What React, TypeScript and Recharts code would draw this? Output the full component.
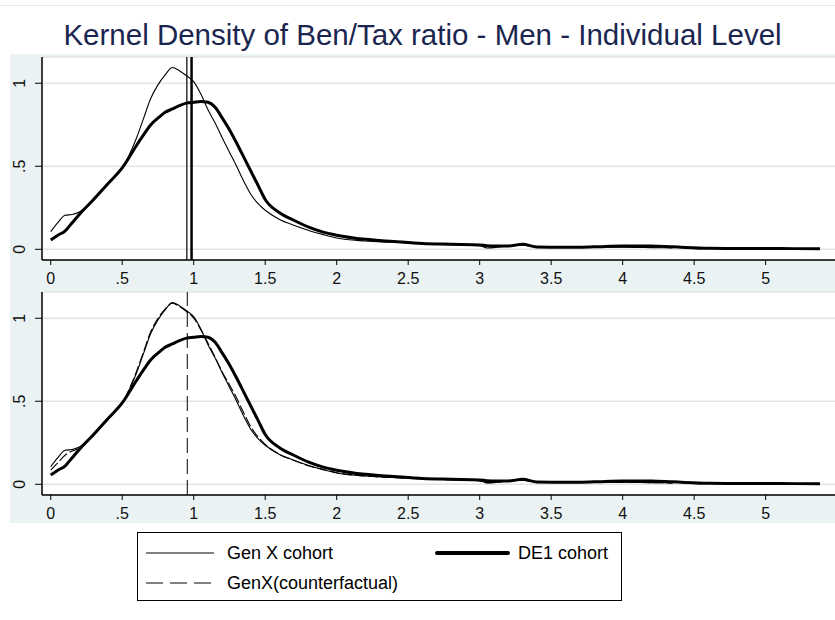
import { LineChart, Line, XAxis, YAxis, CartesianGrid, ReferenceLine } from 'recharts';

// ratio values (x) and the kernel density estimates
const ratio = [0, 0.05, 0.1, 0.15, 0.2, 0.3, 0.4, 0.5, 0.6, 0.65, 0.7, 0.75, 0.8, 0.85, 0.9, 0.95, 1.0, 1.05, 1.1, 1.15, 1.2, 1.25, 1.3, 1.35, 1.4, 1.45, 1.5, 1.6, 1.7, 1.8, 1.9, 2.0, 2.2, 2.4, 2.6, 2.8, 3.0, 3.05, 3.1, 3.2, 3.3, 3.4, 3.6, 3.8, 4.0, 4.2, 4.35, 4.6, 4.8, 5.0, 5.2, 5.38];
const genX = [0.106, 0.16, 0.205, 0.21, 0.225, 0.3, 0.4, 0.49, 0.67, 0.79, 0.91, 0.99, 1.05, 1.095, 1.075, 1.045, 1.01, 0.935, 0.84, 0.76, 0.67, 0.585, 0.5, 0.41, 0.33, 0.275, 0.235, 0.18, 0.145, 0.115, 0.09, 0.068, 0.05, 0.042, 0.032, 0.028, 0.022, 0.008, 0.01, 0.02, 0.025, 0.016, 0.014, 0.012, 0.012, 0.01, 0.008, null, null, null, null, null];
const de1 = [0.056, 0.085, 0.11, 0.16, 0.21, 0.3, 0.395, 0.49, 0.625, 0.69, 0.75, 0.79, 0.825, 0.845, 0.865, 0.88, 0.885, 0.89, 0.885, 0.855, 0.79, 0.72, 0.64, 0.555, 0.47, 0.385, 0.3, 0.22, 0.175, 0.135, 0.105, 0.085, 0.06, 0.047, 0.035, 0.03, 0.026, 0.022, 0.02, 0.02, 0.03, 0.014, 0.012, 0.015, 0.02, 0.02, 0.015, 0.006, 0.005, 0.005, 0.004, 0.004];
const genXCf = [0.085, 0.13, 0.175, 0.2, 0.215, 0.295, 0.395, 0.49, 0.68, 0.8, 0.92, 1.0, 1.055, 1.09, 1.07, 1.04, 1.0, 0.93, 0.85, 0.765, 0.675, 0.6, 0.52, 0.43, 0.345, 0.285, 0.24, 0.18, 0.145, 0.112, 0.09, 0.07, 0.05, 0.04, 0.033, 0.027, 0.022, 0.01, 0.012, 0.02, 0.024, 0.016, 0.014, 0.012, 0.011, 0.01, 0.008, null, null, null, null, null];

// means shown as vertical lines
const genXMean = 0.952;
const de1Mean = 0.985;
const genXCfMean = 0.955;

const xTicks = [0, 0.5, 1, 1.5, 2, 2.5, 3, 3.5, 4, 4.5, 5];
const xTickLabels = ['0', '.5', '1', '1.5', '2', '2.5', '3', '3.5', '4', '4.5', '5'];
const yTicks = [0, 0.5, 1];
const yTickLabels = ['0', '.5', '1'];

const data = ratio.map((x, i) => ({ x, genX: genX[i], de1: de1[i], genXCf: genXCf[i] }));

const font = '"Liberation Sans", Arial, sans-serif';
const xDomain: [number, number] = [-0.061, 5.485];
const yDomain: [number, number] = [-0.0645, 1.158];

const fmtX = (v: number) => xTickLabels[xTicks.indexOf(v)] ?? String(v);

const YTick = (props: any) => {
  const { x, y, payload } = props;
  const label = yTickLabels[yTicks.indexOf(payload.value)] ?? String(payload.value);
  return (
    <text
      x={0}
      y={0}
      transform={`translate(${x - 14},${y}) rotate(-90)`}
      textAnchor="middle"
      dominantBaseline="central"
      fontSize={16}
      fontFamily={font}
      fill="#111"
    >
      {label}
    </text>
  );
};

function Panel({ top, counterfactual }: { top: number; counterfactual: boolean }) {
  return (
    <div style={{ position: 'absolute', left: 0, top }}>
      <LineChart width={835} height={236} data={data} margin={{ top: 3, right: 0, left: 0, bottom: 0 }}>
        <CartesianGrid vertical={false} stroke="#e4e4e4" strokeWidth={1.5} fill="#fff" />
        <XAxis
          type="number"
          dataKey="x"
          domain={xDomain}
          ticks={xTicks}
          interval={0}
          allowDataOverflow
          tickFormatter={fmtX}
          tick={{ fontSize: 16, fill: '#111', fontFamily: font }}
          tickLine={{ stroke: '#000' }}
          axisLine={{ stroke: '#000', strokeWidth: 1.5 }}
          tickSize={5}
          tickMargin={8}
          height={30}
        />
        <YAxis
          type="number"
          domain={yDomain}
          ticks={yTicks}
          interval={0}
          allowDataOverflow
          width={42}
          tick={<YTick />}
          tickLine={{ stroke: '#000' }}
          axisLine={{ stroke: '#000', strokeWidth: 1.5 }}
          tickSize={7}
        />
        {counterfactual ? (
          <ReferenceLine x={genXCfMean} stroke="#000" strokeWidth={1} strokeDasharray="15 6" />
        ) : (
          <ReferenceLine x={genXMean} stroke="#000" strokeWidth={1.2} />
        )}
        {!counterfactual && <ReferenceLine x={de1Mean} stroke="#000" strokeWidth={2.5} />}
        <Line type="monotone" dataKey="genX" stroke="#000" strokeWidth={1.1} dot={false} isAnimationActive={false} />
        {counterfactual && (
          <Line type="monotone" dataKey="genXCf" stroke="#000" strokeWidth={1.1} strokeDasharray="10 3" dot={false} isAnimationActive={false} />
        )}
        <Line type="monotone" dataKey="de1" stroke="#000" strokeWidth={3} dot={false} isAnimationActive={false} />
      </LineChart>
    </div>
  );
}

export default function App() {
  const legendText = { position: 'absolute' as const, fontSize: 18, lineHeight: '20px', color: '#000', fontFamily: font };
  return (
    <div style={{ position: 'absolute', left: 0, top: 0, width: 835, height: 620, background: '#fff', overflow: 'hidden', fontFamily: font }}>
      <div style={{ position: 'absolute', left: 0, top: 5, width: 835, height: 1, background: '#e3e9eb' }} />
      <div style={{ position: 'absolute', left: 10, top: 54, width: 825, height: 469, background: '#eaf2f3' }} />
      <div style={{ position: 'absolute', left: 5, top: 20, width: 835, textAlign: 'center', fontSize: 29.5, lineHeight: '29px', color: '#1b2650' }}>
        Kernel Density of Ben/Tax ratio - Men - Individual Level
      </div>
      <Panel top={54} counterfactual={false} />
      <Panel top={289} counterfactual={true} />
      <div style={{ position: 'absolute', left: 137, top: 532, width: 483, height: 67, border: '1px solid #000', background: '#fff' }}>
        <svg style={{ position: 'absolute', left: 8, top: 10 }} width={70} height={20}>
          <line x1={0} y1={10} x2={68} y2={10} stroke="#000" strokeWidth={1.2} />
        </svg>
        <div style={{ ...legendText, left: 89, top: 10 }}>Gen X cohort</div>
        <svg style={{ position: 'absolute', left: 297, top: 10 }} width={76} height={20}>
          <line x1={2} y1={10} x2={73} y2={10} stroke="#000" strokeWidth={4} strokeLinecap="round" />
        </svg>
        <div style={{ ...legendText, left: 380, top: 10 }}>DE1 cohort</div>
        <svg style={{ position: 'absolute', left: 8, top: 40 }} width={70} height={20}>
          <line x1={0} y1={10} x2={68} y2={10} stroke="#000" strokeWidth={1.2} strokeDasharray="17 7" />
        </svg>
        <div style={{ ...legendText, left: 89, top: 40 }}>GenX(counterfactual)</div>
      </div>
    </div>
  );
}
